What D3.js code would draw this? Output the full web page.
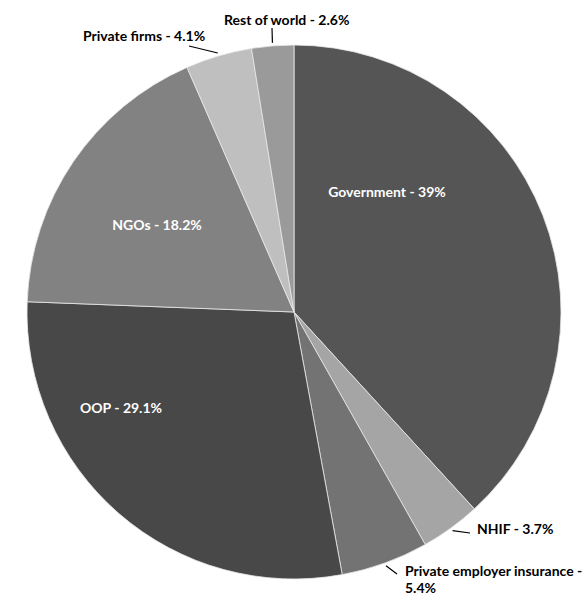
<!DOCTYPE html>
<html>
<head>
<meta charset="utf-8">
<script src="https://cdn.jsdelivr.net/npm/d3@7"></script>
<style>
  body { margin: 0; background: #fff; }
  svg text { font-family: Lato, "Open Sans", sans-serif; font-weight: bold; font-size: 14px; }
</style>
</head>
<body>
<svg id="chart" width="584" height="597"></svg>
<script>
// data
const categories = ["Government", "NHIF", "Private employer insurance", "OOP", "NGOs", "Private firms", "Rest of world"];
const shares = [39, 3.7, 5.4, 29.1, 18.2, 4.1, 2.6];
const labelText = ["Government - 39%", "NHIF - 3.7%", ["Private employer insurance -", "5.4%"], "OOP - 29.1%", "NGOs - 18.2%", "Private firms - 4.1%", "Rest of world - 2.6%"];

// look
const fills = ["#555555", "#a5a5a5", "#737373", "#484848", "#828282", "#bfbfbf", "#9a9a9a"];
// label placement: inside = centred text, outside = start-anchored with leader line
const labelPos = [
    {x: 387, y: 191, inside: true},
    {x: 477, y: 528, inside: false, lx: 470, ly: 533},
    {x: 405, y: 570, inside: false, lx: 397, ly: 574},
    {x: 121, y: 407, inside: true},
    {x: 157, y: 224, inside: true},
    {x: 83, y: 35, inside: false, lx: 189, ly: 46},
    {x: 224, y: 19, inside: false, lx: 272, ly: 28}
];

const svg = d3.select('#chart'),
    cx = 294, cy = 312, radius = 267;

const rows = categories.map(function(c, i){ return {name: c, value: shares[i], i: i} });

const pie = d3.pie()
    .sort(null)
    .value(function(d){ return d.value });

const arc = d3.arc().innerRadius(0).outerRadius(radius);

const arcs = pie(rows);

const g = svg.append("g")
    .attr("transform", `translate(${cx},${cy})`);

g.selectAll("path")
    .data(arcs)
    .enter()
    .append("path")
    .attr("d", arc)
    .style("fill", function(d){ return fills[d.data.i] })
    .style("stroke", "#e8e8e8")
    .style("stroke-width", 0.8);

// leader lines
arcs.forEach(function(d){
    let p = labelPos[d.data.i];
    if(p.inside) return;
    let a = (d.startAngle + d.endAngle) / 2;
    let sx = cx + Math.sin(a) * (radius + 3),
        sy = cy - Math.cos(a) * (radius + 3);
    svg.append("line")
        .attr("x1", sx).attr("y1", sy)
        .attr("x2", p.lx).attr("y2", p.ly)
        .style("stroke", "#000")
        .style("stroke-width", 1.2);
});

// labels
arcs.forEach(function(d){
    let p = labelPos[d.data.i];
    let lines = [].concat(labelText[d.data.i]);
    let t = svg.append("text")
        .attr("x", p.x)
        .attr("y", p.y)
        .attr("dominant-baseline", "central")
        .attr("text-anchor", p.inside ? "middle" : "start")
        .style("fill", p.inside ? "#fff" : "#000");
    lines.forEach(function(l, k){
        t.append("tspan")
            .attr("x", p.x)
            .attr("dy", k === 0 ? 0 : 17)
            .text(l);
    });
});
</script>
</body>
</html>
